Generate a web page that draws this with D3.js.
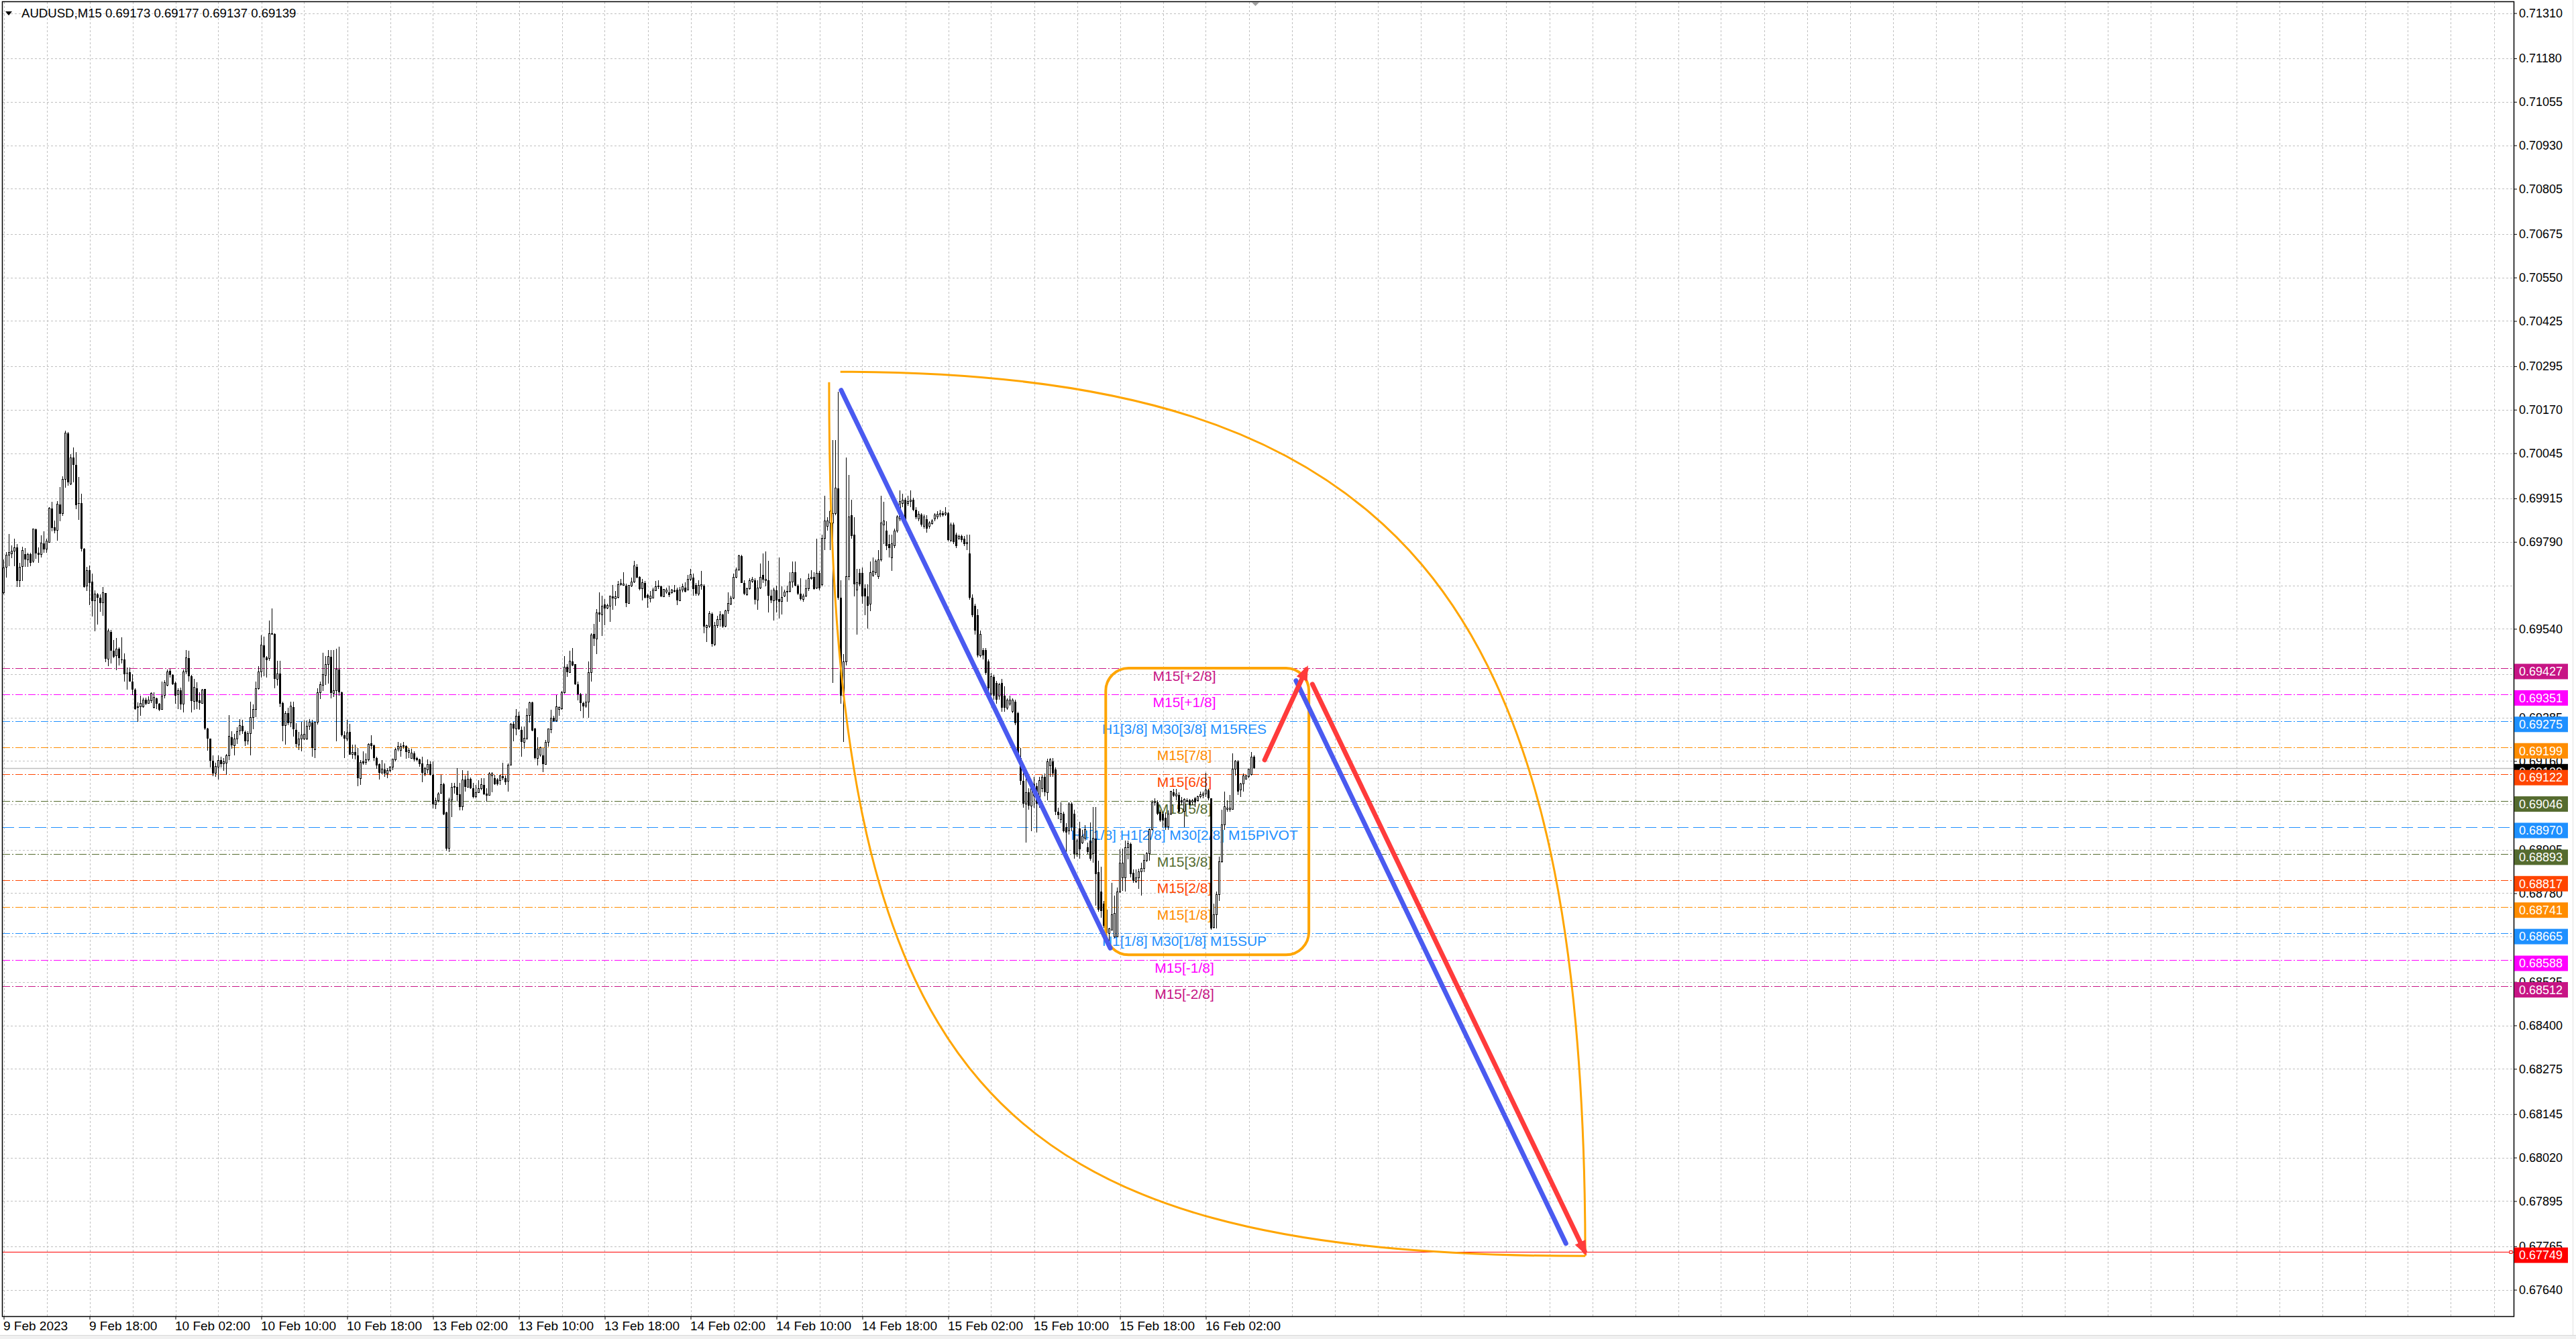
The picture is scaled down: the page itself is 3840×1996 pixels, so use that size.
<!DOCTYPE html>
<html><head><meta charset="utf-8">
<script src="https://cdn.jsdelivr.net/npm/d3@7"></script>
<style>
body{margin:0;background:#fff;}
svg{display:block;font-family:"Liberation Sans",Arial,sans-serif;}
</style>
</head><body>
<svg id="chart" width="3840" height="1996"></svg>
<script>
// ---------------- DATA ----------------
const symbolTitle = "AUDUSD,M15";
const headerQuote = ["0.69173","0.69177","0.69137","0.69139"];

const timeLabels = ["9 Feb 2023","9 Feb 18:00","10 Feb 02:00","10 Feb 10:00","10 Feb 18:00","13 Feb 02:00","13 Feb 10:00","13 Feb 18:00","14 Feb 02:00","14 Feb 10:00","14 Feb 18:00","15 Feb 02:00","15 Feb 10:00","15 Feb 18:00","16 Feb 02:00"];
const timeLabelBars = [0,32,64,96,128,160,192,224,256,288,320,352,384,416,448];

// horizontal grid levels, and the ones that carry a printed label
const priceGrid = [0.71310,0.71180,0.71055,0.70930,0.70805,0.70675,0.70550,0.70425,0.70295,0.70170,0.70045,0.69915,0.69790,0.69665,0.69540,0.69410,0.69285,0.69160,0.69035,0.68905,0.68780,0.68655,0.68525,0.68400,0.68275,0.68145,0.68020,0.67895,0.67765,0.67640];
const priceTicks = [0.71310,0.71180,0.71055,0.70930,0.70805,0.70675,0.70550,0.70425,0.70295,0.70170,0.70045,0.69915,0.69790,0.69540,0.69410,0.69285,0.69160,0.69035,0.68905,0.68780,0.68655,0.68525,0.68400,0.68275,0.68145,0.68020,0.67895,0.67765,0.67640];

const levelPrices = [0.69427,0.69351,0.69275,0.69199,0.69122,0.69046,0.68970,0.68893,0.68817,0.68741,0.68665,0.68588,0.68512];
const levelNames  = ["M15[+2/8]","M15[+1/8]","H1[3/8] M30[3/8] M15RES","M15[7/8]","M15[6/8]","M15[5/8]","H4[1/8] H1[2/8] M30[2/8] M15PIVOT","M15[3/8]","M15[2/8]","M15[1/8]","H1[1/8] M30[1/8] M15SUP","M15[-1/8]","M15[-2/8]"];
const bidPrice = 0.69139;
const alertPrice = 0.67749;

// OHLC, one value per M15 bar starting 9 Feb 10:00
const opens = [0.69644,0.69718,0.69751,0.69756,0.69763,0.69774,0.69678,0.69720,0.69754,0.69739,0.69754,0.69734,0.69827,0.69758,0.69753,0.69786,0.69770,0.69789,0.69886,0.69832,0.69823,0.69898,0.69871,0.69970,0.70102,0.69957,0.70032,0.70012,0.69901,0.69901,0.69771,0.69663,0.69708,0.69675,0.69620,0.69639,0.69629,0.69615,0.69643,0.69453,0.69531,0.69477,0.69462,0.69482,0.69453,0.69453,0.69413,0.69415,0.69389,0.69365,0.69314,0.69317,0.69317,0.69336,0.69326,0.69333,0.69314,0.69341,0.69324,0.69309,0.69348,0.69377,0.69419,0.69407,0.69384,0.69351,0.69363,0.69324,0.69417,0.69456,0.69403,0.69331,0.69370,0.69334,0.69326,0.69367,0.69254,0.69224,0.69161,0.69126,0.69142,0.69162,0.69152,0.69154,0.69176,0.69228,0.69204,0.69224,0.69246,0.69262,0.69244,0.69217,0.69238,0.69286,0.69309,0.69369,0.69417,0.69493,0.69457,0.69455,0.69528,0.69526,0.69396,0.69411,0.69326,0.69262,0.69298,0.69269,0.69315,0.69250,0.69207,0.69223,0.69223,0.69224,0.69260,0.69271,0.69193,0.69271,0.69356,0.69377,0.69407,0.69438,0.69460,0.69355,0.69362,0.69424,0.69358,0.69235,0.69224,
0.69243,0.69179,0.69185,0.69177,0.69110,0.69159,0.69156,0.69163,0.69211,0.69205,0.69169,0.69151,0.69126,0.69135,0.69124,0.69132,0.69142,0.69164,0.69194,0.69190,0.69206,0.69203,0.69185,0.69168,0.69183,0.69168,0.69164,0.69153,0.69124,0.69134,0.69151,0.69121,0.69035,0.69046,0.69068,0.69093,0.69012,0.68909,0.69048,0.69085,0.69085,0.69065,0.69029,0.69106,0.69085,0.69108,0.69081,0.69057,0.69070,0.69081,0.69092,0.69066,0.69061,0.69118,0.69111,0.69106,0.69104,0.69117,0.69111,0.69102,0.69148,0.69267,0.69253,0.69291,0.69249,0.69214,0.69226,0.69291,0.69328,0.69253,0.69168,0.69177,0.69176,0.69151,0.69213,0.69251,0.69284,0.69275,0.69309,0.69311,0.69356,0.69430,0.69415,0.69446,0.69438,0.69381,0.69351,0.69326,0.69318,0.69330,0.69415,0.69526,0.69511,0.69588,0.69581,0.69610,0.69599,0.69606,0.69633,0.69627,0.69631,0.69667,0.69665,0.69665,0.69614,0.69664,0.69675,0.69719,0.69689,0.69656,0.69672,0.69638,0.69627,0.69629,0.69650,0.69661,0.69663,0.69633,0.69645,0.69644,0.69644,0.69648,0.69653,0.69621,0.69651,0.69658,0.69651,0.69682,
0.69687,0.69666,0.69641,0.69664,0.69665,0.69543,0.69547,0.69584,0.69496,0.69550,0.69567,0.69581,0.69547,0.69591,0.69612,0.69628,0.69689,0.69709,0.69750,0.69672,0.69639,0.69655,0.69677,0.69679,0.69623,0.69658,0.69696,0.69679,0.69680,0.69635,0.69621,0.69650,0.69626,0.69618,0.69635,0.69645,0.69648,0.69675,0.69702,0.69665,0.69641,0.69625,0.69635,0.69655,0.69685,0.69689,0.69658,
0.69701,0.69668,0.69800,0.69834,0.69845,0.69845,0.69872,0.69944,0.69629,0.69347,0.69446,0.69690,0.69867,0.69811,0.69651,0.69701,0.69701,0.69657,0.69634,0.69612,0.69695,0.69701,0.69690,0.69739,0.69839,0.69822,0.69784,0.69745,0.69778,0.69822,0.69856,0.69900,0.69911,0.69900,0.69906,0.69911,0.69883,0.69856,0.69869,0.69834,0.69856,0.69834,0.69842,0.69856,0.69861,0.69867,0.69872,0.69870,0.69872,0.69795,0.69839,0.69811,0.69800,0.69806,0.69800,0.69784,0.69756,0.69629,0.69607,0.69579,0.69463,0.69479,0.69479,0.69446,0.69352,0.69402,0.69385,0.69347,0.69385,0.69347,0.69313,0.69324,0.69302,0.69330,0.69297,0.69169,0.69103,0.69037,0.69070,0.69031,0.69059,0.69087,0.69037,0.69081,0.69114,0.69070,0.69147,0.69158,0.69136,0.69015,0.68993,0.69009,0.68970,0.68959,0.69037,
0.69008,0.68893,0.68967,0.68925,0.68938,0.68912,0.68931,0.68893,0.68938,0.68841,0.68784,0.68751,0.68732,0.68665,0.68674,0.68655,0.68655,0.68784,0.68825,0.68825,0.68912,0.68922,0.68838,0.68812,0.68825,0.68841,0.68851,0.68874,0.68893,0.68963,0.69041,0.69041,0.69015,0.69008,0.68996,0.68970,0.69008,0.69070,0.69060,0.69063,0.69047,0.69015,0.69047,0.69047,0.69042,0.69053,0.69047,0.69057,0.69061,0.69066,0.69076,0.69053,0.68681,0.68719,0.68777,0.68870,0.68976,0.69021,0.69021,0.69021,0.69137,0.69159,0.69076,0.69095,0.69108,0.69115,0.69121,0.69173];
const highs = [0.69739,0.69761,0.69813,0.69780,0.69800,0.69783,0.69730,0.69777,0.69773,0.69758,0.69759,0.69828,0.69828,0.69775,0.69808,0.69821,0.69800,0.69889,0.69906,0.69851,0.69907,0.69947,0.69978,0.70109,0.70105,0.70043,0.70061,0.70048,0.69976,0.69929,0.69773,0.69718,0.69723,0.69699,0.69651,0.69643,0.69639,0.69660,0.69643,0.69541,0.69537,0.69508,0.69513,0.69486,0.69515,0.69469,0.69429,0.69429,0.69409,0.69369,0.69329,0.69348,0.69343,0.69343,0.69346,0.69358,0.69358,0.69343,0.69327,0.69388,0.69393,0.69424,0.69426,0.69409,0.69389,0.69369,0.69372,0.69424,0.69480,0.69477,0.69407,0.69396,0.69387,0.69358,0.69367,0.69367,0.69255,0.69224,0.69176,0.69155,0.69177,0.69172,0.69168,0.69180,0.69292,0.69245,0.69238,0.69257,0.69281,0.69278,0.69248,0.69245,0.69331,0.69322,0.69388,0.69432,0.69522,0.69517,0.69462,0.69564,0.69599,0.69527,0.69448,0.69448,0.69331,0.69303,0.69314,0.69331,0.69331,0.69269,0.69244,0.69272,0.69276,0.69276,0.69281,0.69279,0.69272,0.69369,0.69389,0.69472,0.69462,0.69479,0.69480,0.69480,0.69482,0.69489,0.69360,0.69245,0.69279,
0.69266,0.69208,0.69208,0.69198,0.69163,0.69188,0.69182,0.69211,0.69235,0.69208,0.69172,0.69153,0.69162,0.69153,0.69140,0.69145,0.69166,0.69198,0.69214,0.69211,0.69214,0.69205,0.69198,0.69196,0.69188,0.69172,0.69166,0.69172,0.69144,0.69164,0.69159,0.69159,0.69055,0.69070,0.69121,0.69098,0.69015,0.69055,0.69098,0.69098,0.69140,0.69098,0.69134,0.69118,0.69131,0.69113,0.69098,0.69092,0.69105,0.69111,0.69111,0.69081,0.69128,0.69128,0.69121,0.69110,0.69121,0.69155,0.69118,0.69153,0.69269,0.69273,0.69309,0.69301,0.69259,0.69259,0.69311,0.69331,0.69331,0.69256,0.69228,0.69201,0.69198,0.69220,0.69254,0.69307,0.69291,0.69349,0.69317,0.69362,0.69462,0.69439,0.69478,0.69484,0.69439,0.69388,0.69356,0.69330,0.69354,0.69446,0.69528,0.69555,0.69597,0.69645,0.69635,0.69626,0.69613,0.69635,0.69667,0.69648,0.69677,0.69683,0.69703,0.69670,0.69667,0.69687,0.69735,0.69725,0.69691,0.69683,0.69677,0.69642,0.69648,0.69658,0.69677,0.69680,0.69665,0.69654,0.69659,0.69665,0.69654,0.69667,0.69658,0.69661,0.69670,0.69674,0.69696,0.69712,
0.69699,0.69672,0.69679,0.69706,0.69668,0.69553,0.69591,0.69587,0.69560,0.69577,0.69591,0.69584,0.69594,0.69645,0.69635,0.69699,0.69716,0.69753,0.69752,0.69679,0.69658,0.69685,0.69689,0.69685,0.69679,0.69727,0.69756,0.69763,0.69736,0.69652,0.69658,0.69665,0.69746,0.69662,0.69652,0.69665,0.69702,0.69733,0.69733,0.69668,0.69685,0.69641,0.69682,0.69699,0.69709,0.69702,0.69800,
0.69706,0.69811,0.69922,0.69861,0.69883,0.70083,0.70083,0.70221,0.69679,0.69468,0.70033,0.69983,0.69911,0.69861,0.69712,0.69712,0.69717,0.69668,0.69668,0.69734,0.69745,0.69739,0.69767,0.69922,0.69906,0.69850,0.69811,0.69811,0.69828,0.69867,0.69939,0.69928,0.69917,0.69922,0.69939,0.69917,0.69889,0.69878,0.69872,0.69869,0.69867,0.69850,0.69856,0.69872,0.69878,0.69883,0.69878,0.69889,0.69876,0.69845,0.69845,0.69817,0.69811,0.69811,0.69806,0.69811,0.69811,0.69640,0.69612,0.69596,0.69535,0.69484,0.69484,0.69452,0.69413,0.69408,0.69391,0.69385,0.69397,0.69374,0.69341,0.69347,0.69341,0.69336,0.69302,0.69197,0.69136,0.69114,0.69081,0.69092,0.69114,0.69098,0.69114,0.69120,0.69125,0.69167,0.69169,0.69169,0.69142,0.69026,0.69042,0.69015,0.68982,0.69042,0.69042,
0.69021,0.68938,0.68986,0.68963,0.68976,0.68925,0.68983,0.69028,0.69028,0.68874,0.68857,0.68758,0.68751,0.68681,0.68809,0.68774,0.68796,0.68906,0.68909,0.68931,0.68931,0.68925,0.68848,0.68848,0.68851,0.68867,0.68890,0.68899,0.68967,0.69047,0.69053,0.69047,0.69021,0.69015,0.69012,0.69018,0.69074,0.69079,0.69079,0.69070,0.69057,0.69053,0.69053,0.69050,0.69050,0.69057,0.69060,0.69073,0.69073,0.69127,0.69079,0.69053,0.68751,0.68784,0.68886,0.69021,0.69073,0.69047,0.69063,0.69182,0.69163,0.69163,0.69098,0.69124,0.69121,0.69137,0.69185,0.69177];
const lows = [0.69639,0.69687,0.69721,0.69743,0.69720,0.69660,0.69661,0.69677,0.69718,0.69718,0.69720,0.69730,0.69741,0.69729,0.69745,0.69758,0.69758,0.69787,0.69820,0.69815,0.69794,0.69849,0.69864,0.69946,0.69951,0.69953,0.69962,0.69885,0.69853,0.69763,0.69658,0.69648,0.69608,0.69575,0.69533,0.69553,0.69589,0.69577,0.69444,0.69432,0.69441,0.69455,0.69422,0.69434,0.69441,0.69389,0.69365,0.69388,0.69350,0.69308,0.69272,0.69290,0.69314,0.69320,0.69324,0.69327,0.69312,0.69310,0.69303,0.69308,0.69340,0.69375,0.69400,0.69379,0.69324,0.69310,0.69307,0.69300,0.69409,0.69389,0.69300,0.69308,0.69310,0.69308,0.69324,0.69250,0.69190,0.69142,0.69117,0.69114,0.69106,0.69142,0.69131,0.69121,0.69162,0.69195,0.69177,0.69210,0.69235,0.69238,0.69204,0.69207,0.69176,0.69252,0.69286,0.69365,0.69400,0.69403,0.69400,0.69448,0.69524,0.69370,0.69376,0.69315,0.69217,0.69207,0.69264,0.69258,0.69231,0.69200,0.69191,0.69187,0.69221,0.69221,0.69250,0.69172,0.69169,0.69265,0.69338,0.69362,0.69379,0.69383,0.69341,0.69345,0.69217,0.69348,0.69231,0.69169,0.69217,
0.69179,0.69166,0.69165,0.69087,0.69092,0.69150,0.69150,0.69159,0.69194,0.69161,0.69137,0.69106,0.69124,0.69115,0.69110,0.69129,0.69134,0.69159,0.69188,0.69172,0.69195,0.69166,0.69169,0.69166,0.69159,0.69158,0.69144,0.69100,0.69117,0.69124,0.69119,0.69024,0.69022,0.69041,0.69066,0.69005,0.68902,0.68898,0.68999,0.69066,0.69044,0.69018,0.69018,0.69073,0.69083,0.69080,0.69053,0.69052,0.69068,0.69076,0.69063,0.69044,0.69061,0.69070,0.69092,0.69089,0.69091,0.69105,0.69091,0.69073,0.69147,0.69217,0.69235,0.69249,0.69172,0.69195,0.69220,0.69271,0.69245,0.69164,0.69147,0.69172,0.69128,0.69150,0.69201,0.69240,0.69272,0.69273,0.69291,0.69307,0.69353,0.69402,0.69415,0.69433,0.69378,0.69335,0.69304,0.69284,0.69314,0.69284,0.69388,0.69491,0.69468,0.69560,0.69520,0.69550,0.69597,0.69560,0.69594,0.69606,0.69627,0.69665,0.69664,0.69603,0.69613,0.69661,0.69672,0.69685,0.69651,0.69622,0.69627,0.69601,0.69616,0.69627,0.69648,0.69654,0.69632,0.69632,0.69642,0.69632,0.69642,0.69645,0.69608,0.69619,0.69645,0.69645,0.69650,0.69678,
0.69635,0.69635,0.69636,0.69653,0.69527,0.69503,0.69543,0.69489,0.69491,0.69543,0.69547,0.69543,0.69545,0.69584,0.69608,0.69625,0.69685,0.69706,0.69671,0.69638,0.69635,0.69652,0.69672,0.69611,0.69594,0.69655,0.69672,0.69662,0.69587,0.69614,0.69564,0.69587,0.69570,0.69581,0.69631,0.69618,0.69645,0.69658,0.69662,0.69638,0.69621,0.69618,0.69631,0.69648,0.69682,0.69652,0.69655,
0.69651,0.69662,0.69767,0.69822,0.69767,0.69385,0.69867,0.69623,0.69324,0.69214,0.69435,0.69679,0.69800,0.69634,0.69524,0.69662,0.69612,0.69579,0.69540,0.69590,0.69690,0.69695,0.69684,0.69734,0.69784,0.69767,0.69745,0.69706,0.69773,0.69817,0.69850,0.69889,0.69845,0.69894,0.69889,0.69878,0.69856,0.69850,0.69834,0.69828,0.69817,0.69828,0.69839,0.69850,0.69856,0.69861,0.69863,0.69865,0.69791,0.69789,0.69784,0.69773,0.69795,0.69789,0.69778,0.69767,0.69623,0.69573,0.69524,0.69457,0.69457,0.69452,0.69408,0.69358,0.69347,0.69336,0.69324,0.69336,0.69302,0.69302,0.69308,0.69319,0.69297,0.69264,0.69164,0.69092,0.69026,0.68926,0.69020,0.68959,0.69026,0.68954,0.69026,0.69070,0.69059,0.69048,0.69114,0.69114,0.69004,0.68993,0.68982,0.68954,0.68887,0.68948,0.68959,
0.68880,0.68886,0.68880,0.68922,0.68931,0.68893,0.68874,0.68867,0.68745,0.68726,0.68710,0.68681,0.68649,0.68623,0.68674,0.68652,0.68655,0.68780,0.68787,0.68784,0.68877,0.68825,0.68809,0.68809,0.68793,0.68774,0.68841,0.68870,0.68874,0.68960,0.69031,0.69005,0.68986,0.68970,0.68963,0.68963,0.69005,0.69057,0.69047,0.69008,0.69034,0.68970,0.69041,0.69031,0.69034,0.69028,0.69044,0.69053,0.69053,0.69057,0.69047,0.68674,0.68678,0.68678,0.68758,0.68867,0.68963,0.69015,0.69015,0.69021,0.69118,0.69063,0.69057,0.69073,0.69108,0.69111,0.69118,0.69137];
const closes = [0.69716,0.69751,0.69759,0.69763,0.69773,0.69678,0.69718,0.69765,0.69739,0.69753,0.69730,0.69828,0.69756,0.69753,0.69787,0.69768,0.69792,0.69886,0.69831,0.69822,0.69899,0.69871,0.69970,0.70102,0.69961,0.70032,0.70011,0.69895,0.69899,0.69770,0.69661,0.69707,0.69672,0.69620,0.69641,0.69629,0.69614,0.69643,0.69454,0.69534,0.69477,0.69460,0.69482,0.69455,0.69451,0.69410,0.69411,0.69389,0.69365,0.69310,0.69317,0.69326,0.69336,0.69324,0.69336,0.69355,0.69343,0.69324,0.69308,0.69347,0.69386,0.69417,0.69407,0.69381,0.69348,0.69363,0.69323,0.69417,0.69456,0.69403,0.69333,0.69372,0.69331,0.69327,0.69365,0.69253,0.69224,0.69161,0.69124,0.69144,0.69162,0.69152,0.69157,0.69176,0.69232,0.69205,0.69224,0.69245,0.69262,0.69245,0.69217,0.69238,0.69286,0.69308,0.69369,0.69417,0.69494,0.69457,0.69450,0.69527,0.69524,0.69396,0.69410,0.69324,0.69262,0.69296,0.69269,0.69318,0.69252,0.69209,0.69223,0.69235,0.69237,0.69260,0.69272,0.69197,0.69271,0.69356,0.69379,0.69409,0.69438,0.69460,0.69355,0.69363,0.69424,0.69358,0.69235,0.69224,0.69241,
0.69179,0.69185,0.69177,0.69110,0.69156,0.69153,0.69163,0.69208,0.69203,0.69168,0.69147,0.69126,0.69137,0.69124,0.69132,0.69142,0.69165,0.69193,0.69203,0.69203,0.69201,0.69185,0.69191,0.69183,0.69165,0.69162,0.69151,0.69126,0.69138,0.69151,0.69121,0.69035,0.69046,0.69066,0.69092,0.69007,0.68909,0.69048,0.69085,0.69087,0.69063,0.69028,0.69105,0.69086,0.69108,0.69081,0.69057,0.69070,0.69081,0.69092,0.69065,0.69061,0.69124,0.69124,0.69093,0.69093,0.69118,0.69111,0.69100,0.69148,0.69266,0.69254,0.69290,0.69251,0.69214,0.69226,0.69291,0.69328,0.69247,0.69168,0.69195,0.69198,0.69151,0.69214,0.69253,0.69284,0.69275,0.69316,0.69314,0.69356,0.69430,0.69415,0.69447,0.69434,0.69380,0.69351,0.69326,0.69318,0.69330,0.69415,0.69523,0.69511,0.69587,0.69581,0.69606,0.69599,0.69608,0.69635,0.69627,0.69633,0.69667,0.69670,0.69669,0.69614,0.69665,0.69674,0.69721,0.69687,0.69654,0.69672,0.69629,0.69629,0.69635,0.69651,0.69661,0.69664,0.69633,0.69653,0.69651,0.69638,0.69651,0.69650,0.69621,0.69651,0.69661,0.69646,0.69683,0.69696,
0.69655,0.69641,0.69665,0.69668,0.69547,0.69549,0.69584,0.69496,0.69550,0.69567,0.69581,0.69547,0.69591,0.69614,0.69628,0.69689,0.69709,0.69750,0.69672,0.69641,0.69655,0.69679,0.69682,0.69623,0.69658,0.69689,0.69682,0.69682,0.69635,0.69621,0.69652,0.69621,0.69618,0.69631,0.69645,0.69648,0.69675,0.69702,0.69665,0.69641,0.69625,0.69635,0.69655,0.69685,0.69689,0.69655,0.69699,
0.69657,0.69800,0.69850,0.69850,0.69878,0.69872,0.69944,0.69629,0.69347,0.69446,0.69690,0.69861,0.69806,0.69668,0.69673,0.69668,0.69634,0.69634,0.69607,0.69701,0.69706,0.69734,0.69739,0.69845,0.69850,0.69778,0.69773,0.69784,0.69822,0.69861,0.69906,0.69911,0.69850,0.69906,0.69911,0.69883,0.69861,0.69869,0.69839,0.69861,0.69828,0.69845,0.69850,0.69867,0.69869,0.69872,0.69867,0.69874,0.69795,0.69839,0.69789,0.69778,0.69806,0.69795,0.69784,0.69789,0.69629,0.69579,0.69535,0.69463,0.69524,0.69463,0.69413,0.69369,0.69402,0.69347,0.69336,0.69380,0.69313,0.69313,0.69336,0.69336,0.69336,0.69269,0.69169,0.69103,0.69037,0.69070,0.69031,0.69087,0.69092,0.69037,0.69103,0.69114,0.69070,0.69158,0.69164,0.69125,0.69015,0.69004,0.69009,0.68959,0.68954,0.69037,0.68970,
0.68893,0.68931,0.68906,0.68944,0.68963,0.68899,0.68880,0.68938,0.68835,0.68732,0.68729,0.68687,0.68665,0.68678,0.68719,0.68722,0.68784,0.68867,0.68867,0.68912,0.68922,0.68835,0.68816,0.68825,0.68841,0.68851,0.68874,0.68893,0.68963,0.69041,0.69044,0.69008,0.68989,0.68989,0.68970,0.69008,0.69073,0.69060,0.69066,0.69015,0.69041,0.69050,0.69044,0.69034,0.69047,0.69041,0.69057,0.69063,0.69066,0.69076,0.69053,0.68678,0.68719,0.68777,0.68870,0.68976,0.69028,0.69024,0.69024,0.69137,0.69159,0.69073,0.69095,0.69118,0.69118,0.69137,0.69172,0.69139];

// drawn objects: [barIndex, price]
const blueLine1 = [[312.1,0.70226],[412.4,0.68622]];
const blueLine2 = [[481.6,0.69391],[582.2,0.67773]];
const redArrow1 = [[469.9,0.69163],[485.4,0.69423]];
const redArrow2 = [[487.7,0.69381],[589.2,0.67750]];
const arcTop  = [[311.8,0.70279],[589.4,0.67737]];
const arcLeft = [[307.6,0.70249],[589.4,0.67737]];
const rangeBox = [[410.7,0.69427],[486.4,0.68603]];
const levelLabelBar = 440;

// ---------------- LAYOUT ----------------
const W=3840,H=1996, PL=4, PR=3747, PT=3, PB=1962;
const svg = d3.select("#chart");
const x = d3.scaleLinear().domain([0,935]).range([5.5,5.5+4*935]);
const y = d3.scaleLinear().domain([0.71310,0.67640]).range([19.6,1922.6]);

const levelColors = ["#C71585","#FF00FF","#1E90FF","#FF8C00","#FF4500","#556B2F","#1E90FF","#556B2F","#FF4500","#FF8C00","#1E90FF","#FF00FF","#C71585"];

svg.append("rect").attr("width",W).attr("height",H).attr("fill","#fff");
svg.append("rect").attr("x",0).attr("y",1990).attr("width",W).attr("height",6).attr("fill","#F0F0F0");
svg.append("line").attr("x1",0).attr("x2",W).attr("y1",1990.5).attr("y2",1990.5).attr("stroke","#D8D8D8");

const defs = svg.append("defs");
defs.append("clipPath").attr("id","plot").append("rect").attr("x",PL).attr("y",PT).attr("width",PR-PL).attr("height",PB-PT);
defs.append("marker").attr("id","redhead").attr("viewBox","0 0 20 16").attr("refX",14).attr("refY",8)
  .attr("markerWidth",22).attr("markerHeight",18).attr("markerUnits","userSpaceOnUse").attr("orient","auto")
  .append("path").attr("d","M0,0 L20,8 L0,16 Z").attr("fill","#FF3B3B");

const plot = svg.append("g").attr("clip-path","url(#plot)");

// grid
const gridBars = d3.range(0,936,16).filter(b=>x(b)<PR);
plot.append("g").selectAll("line").data(gridBars).join("line")
  .attr("x1",d=>Math.round(x(d))+0.5).attr("x2",d=>Math.round(x(d))+0.5).attr("y1",PT).attr("y2",PB)
  .attr("stroke","#C0C0C0").attr("stroke-dasharray","3,3");
plot.append("g").selectAll("line").data(priceGrid).join("line")
  .attr("x1",PL).attr("x2",PR).attr("y1",d=>Math.round(y(d))+0.5).attr("y2",d=>Math.round(y(d))+0.5)
  .attr("stroke","#C0C0C0").attr("stroke-dasharray","3,3");

// level lines
plot.append("g").selectAll("line").data(levelPrices).join("line")
  .attr("x1",PL).attr("x2",PR).attr("y1",d=>Math.round(y(d))+0.5).attr("y2",d=>Math.round(y(d))+0.5)
  .attr("stroke",(d,i)=>levelColors[i]).attr("stroke-width",1.2)
  .attr("stroke-dasharray",(d,i)=>levelNames[i].includes("PIVOT")?"17,7":"11,3,2,3");
// bid line
plot.append("line").attr("x1",PL).attr("x2",PR).attr("y1",Math.round(y(bidPrice))+0.5).attr("y2",Math.round(y(bidPrice))+0.5).attr("stroke","#C0C0C0").attr("stroke-width",1.3);
// alert line
plot.append("line").attr("x1",PL).attr("x2",PR).attr("y1",Math.round(y(alertPrice))+0.5).attr("y2",Math.round(y(alertPrice))+0.5).attr("stroke","#FF0000").attr("stroke-width",1.2);
svg.append("rect").attr("x",PR-6).attr("y",Math.round(y(alertPrice))-1.5).attr("width",4).attr("height",4).attr("fill","#fff").attr("stroke","#FF0000");

// level texts
plot.append("g").selectAll("text").data(levelPrices).join("text")
  .attr("x",x(levelLabelBar)).attr("y",d=>y(d)+19).attr("text-anchor","middle")
  .attr("font-size",21).attr("fill",(d,i)=>levelColors[i]).text((d,i)=>levelNames[i]);

// candles
const bars = d3.range(closes.length).map(i=>({i,o:opens[i],h:highs[i],l:lows[i],c:closes[i]}));
const cg = plot.append("g").attr("shape-rendering","crispEdges");
cg.selectAll("line").data(bars).join("line")
  .attr("x1",d=>x(d.i)).attr("x2",d=>x(d.i)).attr("y1",d=>y(d.h)).attr("y2",d=>y(d.l))
  .attr("stroke","#000").attr("stroke-width",1);
cg.selectAll("rect").data(bars).join("rect")
  .attr("x",d=>d.c>=d.o? x(d.i)-1 : x(d.i)-1.5)
  .attr("width",d=>d.c>=d.o?2:3)
  .attr("y",d=>y(Math.max(d.o,d.c)))
  .attr("height",d=>Math.max(1,Math.abs(y(d.o)-y(d.c))))
  .attr("fill",d=>d.c>=d.o?"#fff":"#000")
  .attr("stroke",d=>d.c>=d.o?"#000":"none").attr("stroke-width",1);

// range box
plot.append("rect").attr("x",x(rangeBox[0][0])).attr("y",y(rangeBox[0][1]))
  .attr("width",x(rangeBox[1][0])-x(rangeBox[0][0])).attr("height",y(rangeBox[1][1])-y(rangeBox[0][1]))
  .attr("rx",34).attr("fill","none").attr("stroke","#FFA500").attr("stroke-width",4);

// arcs
function arcPath(A,B,corner,k){
  const P1=[A[0]+k*(corner[0]-A[0]),A[1]+k*(corner[1]-A[1])];
  const P2=[B[0]+k*(corner[0]-B[0]),B[1]+k*(corner[1]-B[1])];
  return `M${A[0]},${A[1]} C${P1[0]},${P1[1]} ${P2[0]},${P2[1]} ${B[0]},${B[1]}`;
}
{
  const A=[x(arcTop[0][0]),y(arcTop[0][1])], B=[x(arcTop[1][0]),y(arcTop[1][1])];
  plot.append("path").attr("d",arcPath(A,B,[B[0],A[1]],0.75)).attr("fill","none").attr("stroke","#FFA500").attr("stroke-width",3);
  const A2=[x(arcLeft[0][0]),y(arcLeft[0][1])], B2=[x(arcLeft[1][0]),y(arcLeft[1][1])];
  plot.append("path").attr("d",arcPath(A2,B2,[A2[0],B2[1]],0.8)).attr("fill","none").attr("stroke","#FFA500").attr("stroke-width",3);
}

// trend lines
const seg = d3.line().x(d=>x(d[0])).y(d=>y(d[1]));
[blueLine1,blueLine2].forEach(l=>plot.append("path").attr("d",seg(l)).attr("stroke","#4A5AF0").attr("stroke-width",7).attr("stroke-linecap","round").attr("fill","none"));
[redArrow1,redArrow2].forEach(l=>plot.append("path").attr("d",seg(l)).attr("stroke","#FF3B3B").attr("stroke-width",7).attr("stroke-linecap","round").attr("fill","none").attr("marker-end","url(#redhead)"));

// borders
svg.append("rect").attr("x",PL-0.5).attr("y",PT-0.5).attr("width",PR-PL+1).attr("height",PB-PT+1).attr("fill","none").attr("stroke","#000").attr("stroke-width",1.5);
svg.append("line").attr("x1",W-4.5).attr("x2",W-4.5).attr("y1",0).attr("y2",1990).attr("stroke","#E0E0E0");

// price axis
const yAxis = d3.axisRight(y).tickValues(priceTicks).tickFormat(d3.format(".5f")).tickSize(5).tickPadding(3);
const gy = svg.append("g").attr("transform",`translate(${PR},0)`).call(yAxis);
gy.select(".domain").remove();
gy.attr("font-size",18).attr("font-family","Liberation Sans, Arial, sans-serif");
gy.selectAll("text").attr("x",8).attr("fill","#000");

// bid label
const bidG = svg.append("g");
bidG.append("rect").attr("x",PR+1).attr("y",y(bidPrice)+5-11.5).attr("width",80).attr("height",23).attr("fill","#000");
bidG.append("text").attr("x",PR+8).attr("y",y(bidPrice)+5).attr("dy","0.35em").attr("font-size",18).attr("fill","#fff").text(d3.format(".5f")(bidPrice));
// level labels
const lg = svg.append("g").selectAll("g").data(levelPrices).join("g");
lg.append("rect").attr("x",PR+1).attr("y",d=>y(d)+5-11.5).attr("width",80).attr("height",23).attr("fill",(d,i)=>levelColors[i]);
lg.append("text").attr("x",PR+8).attr("y",d=>y(d)+5).attr("dy","0.35em").attr("font-size",18).attr("fill","#fff").text(d=>d3.format(".5f")(d));
// alert label
svg.append("rect").attr("x",PR+1).attr("y",y(alertPrice)+5-11.5).attr("width",80).attr("height",23).attr("fill","#FF0000");
svg.append("text").attr("x",PR+8).attr("y",y(alertPrice)+5).attr("dy","0.35em").attr("font-size",18).attr("fill","#fff").text(d3.format(".5f")(alertPrice));

// time axis
const xAxis = d3.axisBottom(x).tickValues(timeLabelBars).tickFormat((d,i)=>timeLabels[i]).tickSize(5).tickPadding(3);
const gx = svg.append("g").attr("transform",`translate(0,${PB})`).call(xAxis);
gx.select(".domain").remove();
gx.attr("font-size",19).attr("font-family","Liberation Sans, Arial, sans-serif");
gx.selectAll("text").attr("text-anchor","start").attr("x",-1).attr("fill","#000");

// header
svg.append("path").attr("d","M8,17 L18,17 L13,23 Z").attr("fill","#000");
svg.append("text").attr("x",32).attr("y",26).attr("font-size",18.6).attr("fill","#000")
  .text(symbolTitle+"  "+headerQuote.join(" "));
// shift marker
svg.append("path").attr("d",`M${x(466)-4},${PT} L${x(466)+8},${PT} L${x(466)+2},${PT+6} Z`).attr("fill","#A0A0A0");
</script>
</body></html>
